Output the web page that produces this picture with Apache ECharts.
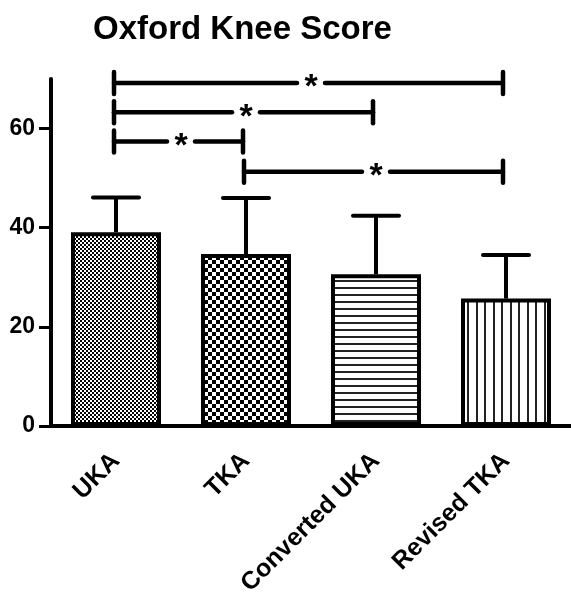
<!DOCTYPE html>
<html>
<head>
<meta charset="utf-8">
<script src="https://cdn.jsdelivr.net/npm/echarts@6/dist/echarts.min.js"></script>
<style>
  html, body { margin: 0; padding: 0; background: #fff; }
  #chart { width: 571px; height: 595px; }
</style>
</head>
<body>
<div id="chart"></div>
<script>
// Oxford Knee Score by group: mean with upper SD whisker
const categories = ['UKA', 'TKA', 'Converted UKA', 'Revised TKA'];
const meanScores = [39.1, 34.7, 30.6, 25.7];
const upperScores = [46.1, 46.0, 42.4, 34.5];
const yTickValues = [0, 20, 40, 60];

// Significance brackets: [from category, to category], height on the score axis
const sigFrom = [0, 0, 0, 1];
const sigTo = [3, 2, 1, 3];
const sigLevels = [69.2, 63.3, 57.4, 51.3];
const sigMarks = ['*', '*', '*', '*'];

const FONT = '"Liberation Sans", Arial, Helvetica, sans-serif';

// Fill patterns drawn on small tiles
function tile(w, h, draw) {
  const c = document.createElement('canvas');
  c.width = w; c.height = h;
  const ctx = c.getContext('2d');
  ctx.fillStyle = '#fff';
  ctx.fillRect(0, 0, w, h);
  ctx.fillStyle = '#000';
  draw(ctx);
  return { image: c, repeat: 'repeat' };
}
const patterns = [
  tile(4, 4, ctx => { ctx.fillRect(0, 0, 2, 2); ctx.fillRect(2, 2, 2, 2); }),
  tile(8, 8, ctx => { ctx.fillRect(0, 0, 4, 4); ctx.fillRect(4, 4, 4, 4); }),
  tile(4, 7, ctx => { ctx.fillStyle = '#222'; ctx.fillRect(0, 0, 4, 2); }),
  tile(17, 4, ctx => { ctx.fillStyle = '#222'; ctx.fillRect(0, 0, 2, 4); ctx.fillRect(8, 0, 2, 4); })
];

const chart = echarts.init(document.getElementById('chart'), null, { renderer: 'canvas' });

const barData = meanScores.map((v, i) => ({
  value: v,
  itemStyle: { color: patterns[i], borderColor: '#000', borderWidth: 4 }
}));

const errData = meanScores.map((v, i) => [i, v, upperScores[i]]);
const sigData = sigLevels.map((lv, k) => [sigFrom[k], sigTo[k], lv, sigMarks[k]]);

chart.setOption({
  animation: false,
  backgroundColor: '#fff',
  title: {
    text: 'Oxford Knee Score',
    left: 88,
    top: 8,
    textStyle: { fontFamily: FONT, fontWeight: 'bold', fontSize: 33, color: '#000' }
  },
  grid: { left: 51, right: 0, top: 79, bottom: 169, containLabel: false, outerBoundsMode: 'none' },
  xAxis: {
    type: 'category',
    data: categories,
    axisLine: { lineStyle: { color: '#000', width: 4, cap: 'butt' } },
    axisTick: { alignWithLabel: true, length: 11, lineStyle: { color: '#000', width: 3 } },
    axisLabel: {
      rotate: 45,
      margin: 31,
      interval: 0,
      fontFamily: FONT,
      fontWeight: 'bold',
      fontSize: 25,
      color: '#000'
    },
    splitLine: { show: false }
  },
  yAxis: {
    type: 'value',
    min: 0,
    max: 70,
    interval: 20,
    axisLine: { show: true, lineStyle: { color: '#000', width: 4 } },
    axisTick: { show: true, length: 12, customValues: yTickValues, lineStyle: { color: '#000', width: 3 } },
    axisLabel: {
      margin: 16,
      customValues: yTickValues,
      fontFamily: FONT,
      fontWeight: 'bold',
      fontSize: 23,
      color: '#000'
    },
    splitLine: { show: false }
  },
  series: [
    {
      type: 'bar',
      data: barData,
      barWidth: 90,
      z: 2
    },
    {
      // upper SD whisker with cap
      type: 'custom',
      data: errData,
      encode: { x: 0, y: [1, 2] },
      z: 3,
      renderItem: function (params, api) {
        const x = api.value(0);
        const base = api.coord([x, api.value(1)]);
        const top = api.coord([x, api.value(2)]);
        const half = 23;
        return {
          type: 'group',
          children: [
            { type: 'line', shape: { x1: base[0], y1: base[1], x2: top[0], y2: top[1] },
              style: { stroke: '#000', lineWidth: 4, lineCap: 'butt' } },
            { type: 'line', shape: { x1: top[0] - half, y1: top[1], x2: top[0] + half, y2: top[1] },
              style: { stroke: '#000', lineWidth: 4, lineCap: 'round' } }
          ]
        };
      }
    },
    {
      // significance brackets
      type: 'custom',
      data: sigData,
      encode: { x: [0, 1], y: 2 },
      z: 4,
      clip: false,
      renderItem: function (params, api) {
        const lv = api.value(2);
        const a = api.coord([api.value(0), lv]);
        const b = api.coord([api.value(1), lv]);
        const mid = (a[0] + b[0]) / 2;
        const gap = 14;
        const capH = 11;
        const st = { stroke: '#000', lineWidth: 4.5, lineCap: 'round' };
        return {
          type: 'group',
          children: [
            { type: 'line', shape: { x1: a[0] - 2, y1: a[1], x2: mid - gap, y2: a[1] }, style: st },
            { type: 'line', shape: { x1: mid + gap, y1: a[1], x2: b[0] - 3, y2: b[1] }, style: st },
            { type: 'line', shape: { x1: a[0] - 2, y1: a[1] - capH, x2: a[0] - 2, y2: a[1] + capH }, style: st },
            { type: 'line', shape: { x1: b[0] - 3, y1: b[1] - capH, x2: b[0] - 3, y2: b[1] + capH }, style: st },
            {
              type: 'text',
              x: mid,
              y: a[1] + 22,
              style: {
                text: sigMarks[params.dataIndex],
                fontFamily: FONT,
                fontWeight: 'bold',
                fontSize: 34,
                fill: '#000',
                align: 'center',
                verticalAlign: 'bottom'
              }
            }
          ]
        };
      }
    }
  ]
});
</script>
</body>
</html>
